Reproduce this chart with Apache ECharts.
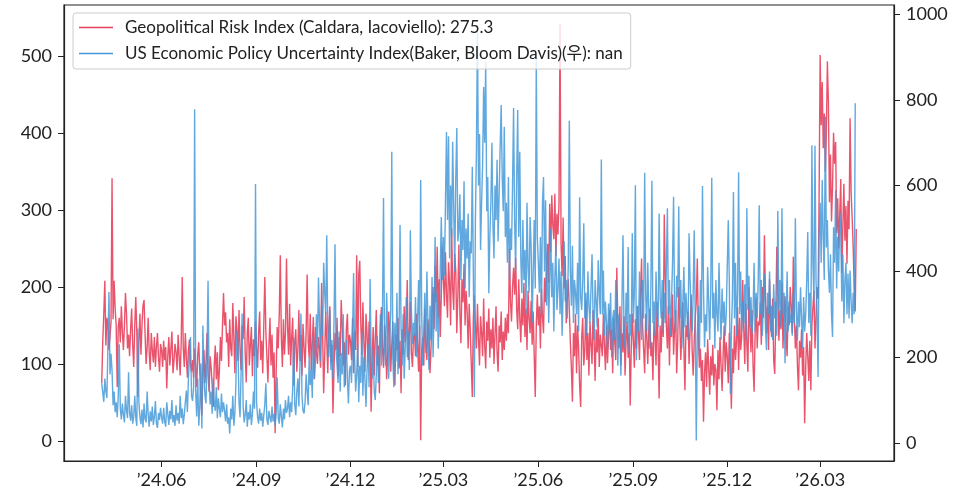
<!DOCTYPE html>
<html>
<head>
<meta charset="utf-8">
<script src="https://cdn.jsdelivr.net/npm/echarts@6/dist/echarts.min.js"></script>
<style>
  html, body { margin: 0; padding: 0; background: #fff; }
  #chart { width: 962px; height: 492px; }
</style>
</head>
<body>
<div id="chart"></div>
<script>
// daily values, first point 2024-04-04
const startDay = '2024-04-04';

const gprValues = [
  75, 130, 165, 208, 124, 160, 150, 118, 135, 155, 341, 158, 208, 172, 150, 70, 148, 160, 128, 175, 142, 118, 150, 192, 165, 120, 138,
  110, 145, 172, 125, 96, 150, 187, 140, 57, 128, 165, 112, 150, 176, 183, 138, 100, 122, 160, 115, 92, 140, 118, 102, 135, 96, 122, 140, 108, 90, 126,
  118, 96, 130, 105, 122, 68, 110, 135, 98, 120, 142, 88, 104, 126, 115, 92, 138, 110, 85, 128, 213, 120, 96, 140, 108, 82, 118, 132, 100, 90,
  105, 82, 120, 96, 70, 112, 128, 90, 60, 33, 88, 118, 75, 102, 140, 86, 64, 110, 95, 72, 44, 98, 124, 80, 115, 66, 92, 135, 104, 150, 192,
  150, 167, 128, 140, 96, 158, 120, 110, 179, 135, 88, 162, 145, 104, 170, 118, 92, 150, 132, 187, 114, 76, 140, 160, 98, 125, 148, 84, 132, 110, 155,
  120, 95, 140, 168, 105, 130, 88, 150, 213, 142, 110, 76, 125, 160, 98, 138, 82, 115, 10, 90, 148, 120, 165, 241, 135, 96, 158, 112, 140, 237,
  150, 112, 178, 98, 135, 160, 72, 128, 145, 90, 118, 170, 104, 138, 85, 152, 122, 95, 140, 216, 130, 108, 165, 92, 126, 161, 80, 148, 115, 100, 135,
  120, 95, 205, 140, 62, 110, 168, 130, 88, 150, 175, 102, 125, 36, 92, 140, 118, 160, 84, 135, 110, 183, 150, 98, 128, 72, 145, 165, 112, 138,
  130, 105, 160, 88, 142, 118, 241, 96, 217, 234, 150, 112, 180, 128, 90, 165, 140, 102, 155, 120, 38, 110, 148, 85, 132, 170, 98, 124, 62, 150, 174,
  120, 95, 150, 135, 80, 110, 168, 142, 90, 125, 155, 100, 72, 138, 118, 160, 94, 130, 62, 145, 112, 175, 128, 150, 209, 105, 140, 180, 115, 96, 135,
  140, 110, 165, 125, 90, 150, 1, 118, 135, 98, 172, 128, 105, 158, 142, 88, 120, 168, 200, 145, 228, 180, 252, 160, 210, 135, 190, 252,
  210, 175, 245, 190, 160, 232, 205, 150, 276, 198, 170, 243, 220, 140, 188, 255, 165, 127, 210, 180, 230, 150, 195, 168, 120, 178, 145, 100, 57, 160, 189,
  150, 120, 178, 135, 98, 162, 140, 110, 185, 125, 94, 155, 130, 172, 108, 145, 120, 160, 100, 138, 175, 115, 90, 150, 128, 168, 105, 142, 118, 160,
  130, 165, 140, 250, 180, 155, 200, 225, 190, 238, 170, 145, 210, 160, 128, 185, 150, 205, 135, 172, 118, 195, 160, 140, 182, 125, 168, 110, 57, 150, 190,
  150, 175, 120, 198, 160, 140, 212, 180, 230, 256, 205, 308, 245, 319, 280, 262, 321, 240, 295, 268, 308, 541, 256, 214, 290, 198, 240, 153, 185, 210,
  170, 128, 95, 51, 140, 110, 165, 88, 150, 120, 72, 44, 135, 160, 98, 118, 182, 105, 140, 85, 155, 125, 100, 170, 132, 78, 145, 115, 160, 96, 138,
  140, 110, 165, 125, 92, 150, 101, 135, 170, 118, 145, 88, 160, 130, 105, 225, 150, 120, 175, 98, 140, 115, 162, 85, 130, 155, 108, 140, 46, 120, 165,
  130, 95, 158, 120, 175, 140, 105, 190, 237, 150, 118, 88, 165, 135, 100, 145, 172, 110, 128, 79, 155, 140, 98, 180, 125, 55, 150, 115, 168, 135,
  294, 210, 150, 120, 175, 98, 160, 135, 190, 112, 145, 170, 88, 130, 200, 155, 105, 140, 180, 120, 66, 150, 135, 168, 100, 145, 190, 118, 85, 130, 160,
  180, 237, 140, 95, 120, 78, 105, 25, 88, 115, 70, 132, 96, 60, 110, 85, 125, 72, 100, 92, 40, 118, 80, 135, 98, 65, 112, 150, 90, 128,
  110, 75, 140, 95, 42, 120, 88, 150, 105, 130, 174, 92, 160, 118, 135, 209, 145, 100, 178, 125, 90, 200, 150, 115, 170, 98, 64, 140, 185, 120, 155,
  150, 180, 125, 200, 160, 267, 190, 140, 175, 118, 210, 155, 135, 185, 105, 87, 160, 252, 195, 130, 170, 145, 205, 120, 165, 188, 140, 110, 175, 150, 200,
  175, 140, 239, 160, 120, 150, 98, 66, 130, 108, 145, 85, 122, 23, 95, 140, 110, 78, 130, 66, 150, 174, 195, 120, 160, 200, 185, 320,
  501, 410, 466, 380, 425, 350, 398, 493, 440, 310, 372, 285, 330, 400, 360, 388, 270, 315, 250, 295, 340, 218, 280, 334, 260, 305, 230, 312, 275, 419, 323,
  290, 252, 200, 168, 275.3
];

const epuValues = [
  139, 118, 96, 150, 120, 105, 228, 352, 160, 208, 169, 88, 120, 72, 95, 60, 108, 230, 80, 55, 92, 66, 48, 110, 75, 58, 165,
  70, 52, 88, 45, 62, 110, 58, 40, 267, 95, 60, 44, 78, 36, 92, 55, 48, 120, 66, 38, 74, 50, 85, 42, 60, 98, 46, 35, 70, 54, 82,
  60, 45, 82, 50, 38, 95, 68, 42, 75, 55, 100, 48, 65, 40, 88, 52, 70, 45, 110, 58, 80, 44, 66, 95, 122, 72, 150, 200, 247, 110,
  98, 130, 778, 120, 62, 150, 40, 85, 185, 34, 274, 160, 110, 92, 200, 378, 145, 90, 120, 68, 150, 95, 75, 130, 58, 104, 80, 60, 115, 72, 95,
  75, 50, 90, 45, 60, 22, 80, 55, 110, 40, 70, 140, 263, 223, 95, 60, 162, 302, 85, 48, 66, 100, 38, 72, 55, 90, 42, 68, 120, 80, 604,
  95, 60, 45, 80, 52, 70, 38, 65, 90, 139, 55, 42, 75, 60, 48, 85, 50, 68, 40, 72, 153, 58, 45, 90, 62, 36, 80, 55, 100, 70,
  80, 110, 60, 95, 72, 130, 246, 90, 65, 120, 150, 85, 180, 302, 110, 75, 69, 95, 160, 120, 88, 200, 135, 170, 105, 250, 150, 190, 300, 220, 386,
  280, 190, 320, 250, 420, 350, 300, 484, 260, 200, 310, 170, 240, 150, 280, 463, 220, 180, 140, 260, 120, 210, 160, 300, 130, 190, 240, 150, 92, 170,
  180, 140, 250, 396, 200, 120, 160, 230, 95, 180, 140, 260, 110, 200, 150, 84, 170, 230, 130, 382, 190, 150, 220, 120, 100, 160, 250, 140, 200, 300, 180,
  300, 571, 220, 180, 350, 260, 150, 240, 310, 679, 200, 130, 280, 190, 350, 160, 240, 508, 270, 180, 300, 150, 220, 340, 200, 260, 170, 496, 310, 230, 280,
  250, 340, 200, 290, 380, 220, 613, 300, 180, 260, 350, 210, 400, 280, 170, 320, 240, 387, 200, 309, 480, 260, 350, 220, 300, 410, 527, 380,
  480, 390, 560, 725, 520, 715, 430, 600, 480, 702, 550, 400, 620, 734, 470, 496, 580, 380, 520, 450, 610, 360, 500, 430, 535, 340, 470, 442, 644, 400, 107,
  520, 680, 974, 600, 720, 450, 560, 650, 830, 700, 889, 540, 620, 349, 480, 560, 700, 512, 430, 600, 520, 660, 470, 580, 690, 788, 620, 540, 737, 480,
  560, 420, 620, 380, 500, 450, 600, 781, 520, 400, 620, 776, 480, 679, 430, 349, 520, 380, 450, 300, 560, 410, 350, 527, 460, 280, 400, 520, 360, 900, 480,
  420, 350, 480, 300, 560, 620, 400, 566, 320, 450, 280, 380, 500, 340, 420, 260, 390, 460, 310, 360, 430, 300, 400, 250, 349, 470, 330, 380, 290, 420,
  751, 400, 320, 460, 280, 380, 350, 300, 420, 260, 573, 340, 310, 380, 512, 290, 350, 250, 400, 320, 280, 360, 440, 300, 240, 380, 330, 270, 426, 350, 300,
  661, 300, 402, 250, 330, 280, 220, 325, 260, 350, 200, 290, 310, 240, 380, 270, 180, 300, 250, 157, 330, 484, 260, 220, 350, 280, 457, 210, 300, 250, 489,
  280, 350, 601, 193, 320, 260, 400, 300, 240, 380, 290, 630, 350, 260, 420, 310, 220, 360, 611, 280, 330, 250, 400, 300, 270, 535, 340, 290, 380, 260,
  350, 280, 410, 547, 300, 380, 250, 330, 420, 574, 310, 260, 390, 340, 552, 290, 380, 220, 330, 410, 270, 350, 300, 240, 489, 380, 310, 260, 350, 496, 290,
  6, 250, 320, 200, 380, 280, 599, 363, 223, 300, 260, 410, 330, 240, 349, 618, 290, 350, 220, 380, 300, 260, 420, 310, 240, 360, 280, 330, 250, 300,
  300, 519, 380, 115, 260, 340, 585, 290, 420, 250, 350, 631, 300, 400, 260, 330, 280, 370, 240, 547, 310, 390, 270, 340, 255, 300, 420, 260, 350, 290, 380,
  554, 300, 380, 250, 330, 395, 270, 216, 350, 300, 400, 260, 320, 240, 370, 290, 330, 250, 541, 310, 380, 270, 547, 300, 350, 186, 290, 400, 260, 330, 280,
  300, 250, 350, 280, 524, 310, 239, 330, 270, 363, 290, 220, 340, 260, 300, 380, 492, 280, 350, 250, 694, 420, 330, 693, 380, 300, 154, 480,
  560, 420, 613, 480, 380, 761, 456, 520, 402, 350, 440, 300, 247, 503, 420, 589, 360, 480, 400, 539, 496, 330, 440, 279, 380, 420, 300, 395, 290, 402, 330,
  279, 350, 300, 792, null
];

const xTickDays = ['2024-06-01', '2024-09-01', '2024-12-01', '2025-03-01', '2025-06-01', '2025-09-01', '2025-12-01', '2026-03-01'];
const leftTicks = [0, 100, 200, 300, 400, 500];
const rightTicks = [0, 200, 400, 600, 800, 1000];

const gprName = 'Geopolitical Risk Index (Caldara, Iacoviello)';
const epuName = 'US Economic Policy Uncertainty Index(Baker, Bloom Davis)(우)';

const DAY = 86400000;
const t0 = Date.parse(startDay + 'T00:00:00Z');
const dayTimes = gprValues.map((_, i) => t0 + i * DAY);
const span = dayTimes[dayTimes.length - 1] - t0;
const xTicks = xTickDays.map(d => Date.parse(d + 'T00:00:00Z'));

function lastLabel(arr) {
  const v = arr[arr.length - 1];
  return v == null ? 'nan' : String(v);
}

const FONT = 'Lato, "Noto Sans CJK KR", sans-serif';
const INK = '#222';

const chart = echarts.init(document.getElementById('chart'));

const option = {
  animation: false,
  backgroundColor: '#fff',
  textStyle: { fontFamily: FONT },
  grid: {
    left: 64, right: 68, top: 5, bottom: 31,
    show: true, borderColor: INK, borderWidth: 1.2
  },
  legend: {
    left: 73, top: 13,
    orient: 'vertical',
    padding: [6, 8, 7, 6],
    itemGap: 9,
    itemWidth: 34,
    itemHeight: 1.6,
    icon: 'rect',
    backgroundColor: 'rgba(255,255,255,0.8)',
    borderColor: '#cccccc',
    borderWidth: 1,
    borderRadius: 3,
    textStyle: { fontFamily: FONT, fontSize: 17, color: '#222', lineHeight: 17, padding: [0, 0, 0, 7] },
    formatter: function (name) {
      return name === gprName ? name + ': ' + lastLabel(gprValues) : name + ': ' + lastLabel(epuValues);
    },
    data: [gprName, epuName]
  },
  xAxis: {
    type: 'value',
    min: t0 - span * 0.05,
    max: t0 + span * 1.05,
    axisLine: { show: true, onZero: false, lineStyle: { color: INK, width: 1.2 } },
    axisTick: { show: true, length: 6, lineStyle: { color: INK }, customValues: xTicks },
    splitLine: { show: false },
    axisLabel: {
      customValues: xTicks,
      margin: 10,
      fontSize: 18,
      color: '#222',
      fontFamily: FONT,
      formatter: function (v) {
        const d = new Date(v);
        const yy = String(d.getUTCFullYear()).slice(2);
        const mm = String(d.getUTCMonth() + 1).padStart(2, '0');
        return '\u2019' + yy + '.' + mm;
      }
    }
  },
  yAxis: [
    {
      type: 'value',
      position: 'left',
      min: -26, max: 566,
      axisLine: { show: true, lineStyle: { color: INK, width: 1.2 } },
      axisTick: { show: true, length: 6, lineStyle: { color: INK }, customValues: leftTicks },
      splitLine: { show: false },
      axisLabel: { customValues: leftTicks, margin: 12, fontSize: 18, color: '#222', fontFamily: FONT,
        formatter: v => String(v) }
    },
    {
      type: 'value',
      position: 'right',
      min: -42, max: 1021,
      axisLine: { show: true, lineStyle: { color: INK, width: 1.2 } },
      axisTick: { show: true, length: 6, lineStyle: { color: INK }, customValues: rightTicks },
      splitLine: { show: false },
      axisLabel: { customValues: rightTicks, margin: 12, fontSize: 18, color: '#222', fontFamily: FONT,
        formatter: v => String(v) }
    }
  ],
  series: [
    {
      name: gprName,
      type: 'line',
      yAxisIndex: 0,
      showSymbol: false,
      symbol: 'none',
      color: '#e8405c',
      lineStyle: { width: 1.4, color: '#e8405c', opacity: 0.9 },
      data: dayTimes.map((t, i) => [t, gprValues[i]])
    },
    {
      name: epuName,
      type: 'line',
      yAxisIndex: 1,
      showSymbol: false,
      symbol: 'none',
      color: '#4499d8',
      lineStyle: { width: 1.4, color: '#4499d8', opacity: 0.85 },
      data: dayTimes.map((t, i) => [t, epuValues[i]])
    }
  ]
};

chart.setOption(option);
</script>
</body>
</html>
